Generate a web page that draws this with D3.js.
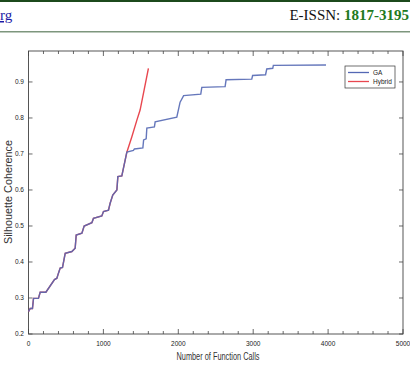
<!DOCTYPE html>
<html>
<head>
<meta charset="utf-8">
<script src="https://cdn.jsdelivr.net/npm/d3@7"></script>
<style>
  body { margin: 0; background: #fff; }
  svg { display: block; }
</style>
</head>
<body>
<div id="chart"></div>
<script>
// function calls / silhouette coherence
const gaCalls = [0, 23, 53, 67, 133, 156, 232, 347, 379, 400, 423, 454, 490, 579, 623, 637, 713, 743, 846, 867, 979, 1001, 1068, 1090, 1125, 1180, 1193, 1246, 1313,
    1401, 1414, 1527, 1537, 1571, 1580, 1681, 1691, 1980, 2024, 2071, 2300, 2314, 2625, 2638, 2981, 2992, 3165, 3181, 3261, 3269, 3972];
const gaValues = [0.262, 0.271, 0.271, 0.299, 0.299, 0.316, 0.316, 0.351, 0.355, 0.369, 0.383, 0.385, 0.424, 0.429, 0.438, 0.475, 0.480, 0.500, 0.509, 0.521, 0.528, 0.540, 0.544, 0.563, 0.586, 0.600, 0.637, 0.639, 0.705,
    0.710, 0.714, 0.717, 0.739, 0.742, 0.772, 0.775, 0.789, 0.802, 0.844, 0.862, 0.866, 0.885, 0.887, 0.906, 0.908, 0.918, 0.920, 0.936, 0.938, 0.946, 0.947];
const hybridCalls = gaCalls.slice(0, 29).concat([1380, 1447, 1490, 1544, 1601]);
const hybridValues = gaValues.slice(0, 29).concat([0.748, 0.794, 0.822, 0.878, 0.938]);
const seriesNames = ["GA", "Hybrid"];
const xTicks = [0, 1000, 2000, 3000, 4000, 5000];
const yTicks = [0.2, 0.3, 0.4, 0.5, 0.6, 0.7, 0.8, 0.9];

function main() {
    const width = 410, height = 368;
    const svg = d3.select("#chart").append("svg")
        .attr("width", width)
        .attr("height", height);

    // journal page header
    svg.append("rect").attr("x", 0).attr("y", 0).attr("width", width).attr("height", 2).attr("fill", "#1c4a1c");
    svg.append("text")
        .attr("x", 0).attr("y", 20)
        .attr("font-family", "Liberation Serif, serif").attr("font-size", 15)
        .attr("fill", "#1a1aa6").attr("text-decoration", "underline")
        .text("rg");
    const issn = svg.append("text")
        .attr("x", 409).attr("y", 20).attr("text-anchor", "end")
        .attr("font-family", "Liberation Serif, serif").attr("font-size", 15);
    issn.append("tspan").attr("fill", "#111").text("E-ISSN: ");
    issn.append("tspan").attr("fill", "#217a21").attr("font-weight", "bold").text("1817-3195");
    svg.append("rect").attr("x", 0).attr("y", 31).attr("width", width).attr("height", 1.5).attr("fill", "#7d967d");

    const x = d3.scaleLinear().domain([0, 5000]).range([28.5, 403]);
    const y = d3.scaleLinear().domain([0.2, 0.986]).range([334, 51]);

    const g = svg.append("g");
    const axisColor = "#444";

    // frame
    g.append("rect")
        .attr("x", x(0)).attr("y", y(0.986))
        .attr("width", x(5000) - x(0)).attr("height", y(0.2) - y(0.986))
        .attr("fill", "none").attr("stroke", axisColor).attr("stroke-width", 0.9);

    // inward ticks on all four sides
    const xMinor = d3.range(0, 5001, 200);
    g.selectAll(".xt").data(xMinor).join("line")
        .attr("x1", d => x(d)).attr("x2", d => x(d))
        .attr("y1", y(0.2)).attr("y2", d => y(0.2) - (d % 1000 === 0 ? 5 : 3))
        .attr("stroke", axisColor).attr("stroke-width", 0.8);
    g.selectAll(".xtt").data(xMinor).join("line")
        .attr("x1", d => x(d)).attr("x2", d => x(d))
        .attr("y1", y(0.986)).attr("y2", d => y(0.986) + (d % 1000 === 0 ? 5 : 3))
        .attr("stroke", axisColor).attr("stroke-width", 0.8);
    g.selectAll(".yt").data(yTicks).join("line")
        .attr("x1", x(0)).attr("x2", x(0) + 4)
        .attr("y1", d => y(d)).attr("y2", d => y(d))
        .attr("stroke", axisColor).attr("stroke-width", 0.8);
    g.selectAll(".ytr").data(yTicks).join("line")
        .attr("x1", x(5000)).attr("x2", x(5000) - 4)
        .attr("y1", d => y(d)).attr("y2", d => y(d))
        .attr("stroke", axisColor).attr("stroke-width", 0.8);

    const tickFont = "Liberation Sans Narrow, Liberation Sans, sans-serif";
    g.selectAll(".xl").data(xTicks).join("text")
        .attr("x", d => x(d)).attr("y", 346)
        .attr("text-anchor", "middle")
        .attr("font-family", tickFont).attr("font-size", 6.5).attr("fill", "#222")
        .text(d => d);
    g.selectAll(".yl").data(yTicks).join("text")
        .attr("x", 24).attr("y", d => y(d) + 2.3)
        .attr("text-anchor", "end")
        .attr("font-family", tickFont).attr("font-size", 6.5).attr("fill", "#222")
        .text(d => d.toFixed(1));

    // axis titles
    svg.append("text")
        .attr("x", 218).attr("y", 360)
        .attr("text-anchor", "middle")
        .attr("font-family", tickFont).attr("font-size", 10).attr("fill", "#333")
        .attr("textLength", 83).attr("lengthAdjust", "spacingAndGlyphs")
        .text("Number of Function Calls");
    svg.append("text")
        .attr("transform", "translate(12,192) rotate(-90)")
        .attr("text-anchor", "middle")
        .attr("font-family", tickFont).attr("font-size", 11).attr("fill", "#333")
        .attr("textLength", 104).attr("lengthAdjust", "spacingAndGlyphs")
        .text("Silhouette Coherence");

    const line = d3.line().x(d => x(d[0])).y(d => y(d[1]));
    const hybrid = d3.zip(hybridCalls, hybridValues);
    const ga = d3.zip(gaCalls, gaValues);

    g.append("path").datum(hybrid)
        .attr("d", line).attr("fill", "none")
        .attr("stroke", "#e8474f").attr("stroke-width", 1.4);
    g.append("path").datum(ga)
        .attr("d", line).attr("fill", "none")
        .attr("stroke", "#5468b4").attr("stroke-width", 1.4)
        .attr("stroke-opacity", 0.9);

    // legend
    const colors = ["#5468b4", "#e8474f"];
    const lg = svg.append("g");
    lg.append("rect")
        .attr("x", 345).attr("y", 66).attr("width", 50).attr("height", 22)
        .attr("fill", "#fff").attr("stroke", "#333").attr("stroke-width", 0.7);
    seriesNames.forEach((name, i) => {
        lg.append("line")
            .attr("x1", 348).attr("x2", 369)
            .attr("y1", 72.5 + i * 9).attr("y2", 72.5 + i * 9)
            .attr("stroke", colors[i]).attr("stroke-width", 1.3);
        lg.append("text")
            .attr("x", 373).attr("y", 74.8 + i * 9)
            .attr("font-family", tickFont).attr("font-size", 6.5).attr("fill", "#222")
            .text(name);
    });
}
main();
</script>
</body>
</html>
